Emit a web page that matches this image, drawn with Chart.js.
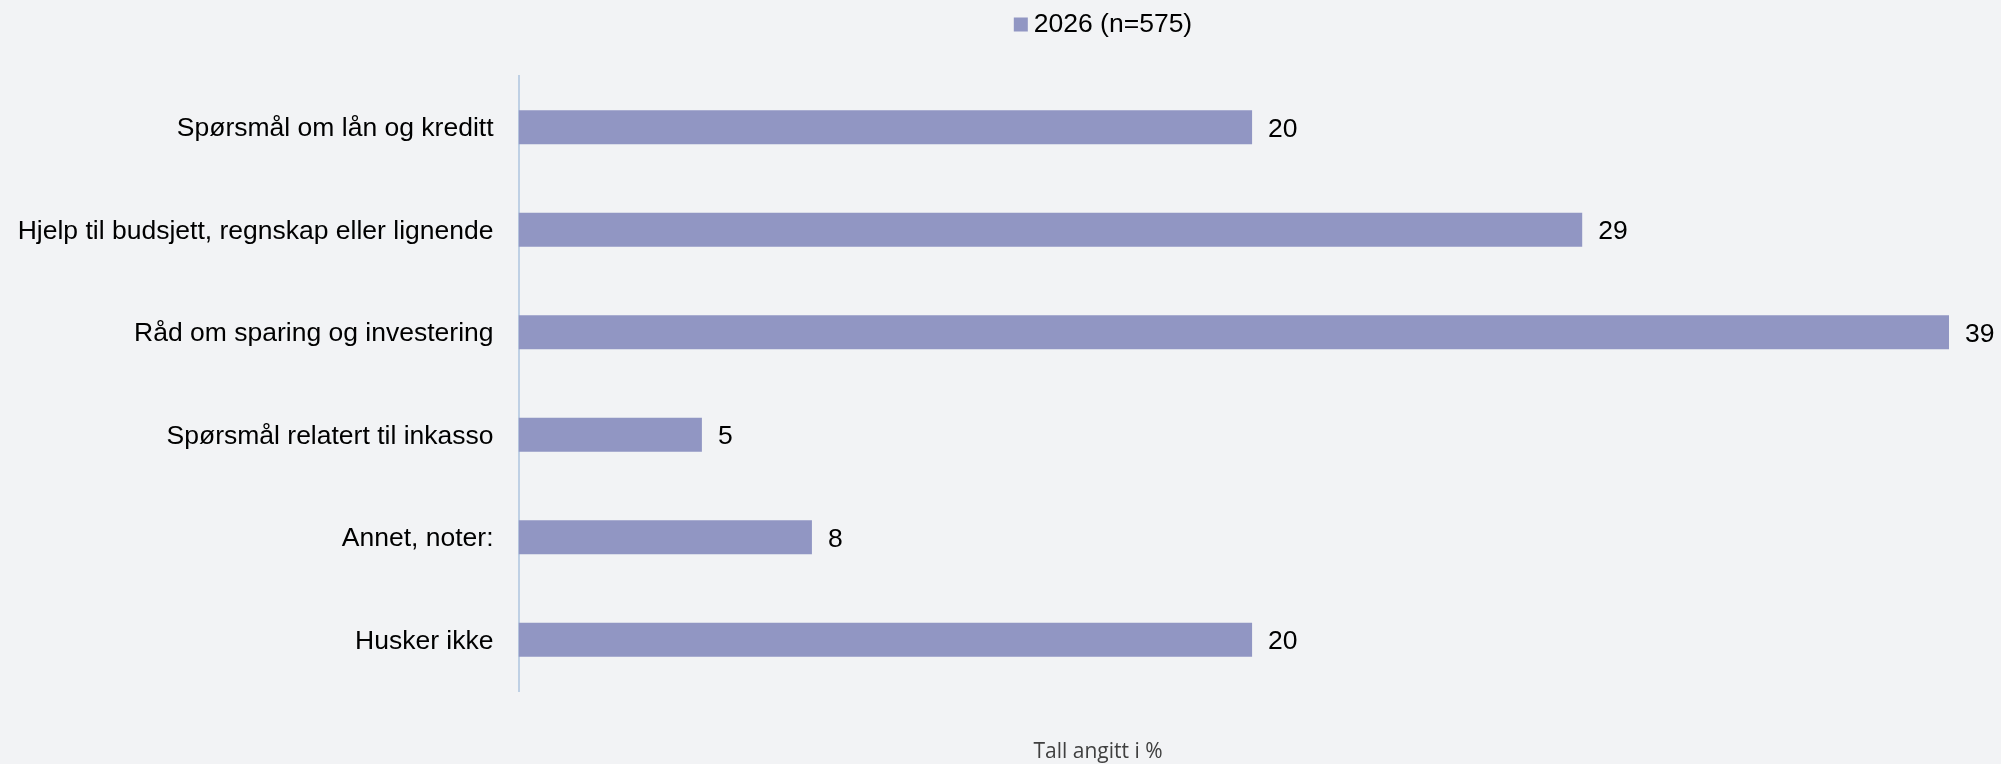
<!DOCTYPE html>
<html>
<head>
<meta charset="utf-8">
<script src="https://cdn.jsdelivr.net/npm/chart.js@4.4.1/dist/chart.umd.min.js"></script>
<style>
  html, body { margin: 0; padding: 0; background: #f2f3f5; }
  #wrap { width: 2001px; height: 764px; }
</style>
</head>
<body>
<div id="wrap"><canvas id="chart" width="2001" height="764"></canvas></div>
<script>
const categories = [
  'Spørsmål om lån og kreditt',
  'Hjelp til budsjett, regnskap eller lignende',
  'Råd om sparing og investering',
  'Spørsmål relatert til inkasso',
  'Annet, noter:',
  'Husker ikke',
]
const values = [20, 29, 39, 5, 8, 20]
const seriesLabel = '2026 (n=575)'
const footnote = 'Tall angitt i %'

const barColor = '#9196c3'
const textFont = '26.5px "Liberation Sans", Arial, sans-serif'

// value labels to the right of each bar
const valueLabels = {
  id: 'valueLabels',
  afterDatasetsDraw(chart) {
    const { ctx } = chart
    const meta = chart.getDatasetMeta(0)
    ctx.save()
    ctx.font = textFont
    ctx.fillStyle = '#000'
    ctx.textAlign = 'left'
    ctx.textBaseline = 'middle'
    meta.data.forEach((bar, i) => {
      ctx.fillText(String(chart.data.datasets[0].data[i]), bar.x + 16, bar.y + 2)
    })
    ctx.restore()
  },
}

// legend swatch at the top and the footnote at the bottom
const captions = {
  id: 'captions',
  afterDraw(chart) {
    const { ctx } = chart
    const ds = chart.data.datasets[0]
    ctx.save()
    ctx.font = textFont
    const tw = ctx.measureText(ds.label).width
    const total = 14 + 6 + tw
    const x0 = 1103 - total / 2
    ctx.fillStyle = ds.backgroundColor
    ctx.fillRect(x0, 17.5, 14, 14)
    ctx.fillStyle = '#000'
    ctx.textBaseline = 'middle'
    ctx.textAlign = 'left'
    ctx.fillText(ds.label, x0 + 20, 25)

    ctx.font = '21px "Open Sans", sans-serif'
    ctx.fillStyle = '#404040'
    ctx.textAlign = 'center'
    ctx.textBaseline = 'alphabetic'
    ctx.fillText(footnote, 1098, 758)
    ctx.restore()
  },
}

new Chart(document.getElementById('chart').getContext('2d'), {
  type: 'bar',
  data: {
    labels: categories,
    datasets: [
      {
        label: seriesLabel,
        data: values,
        backgroundColor: barColor,
        borderWidth: 0,
        barPercentage: 0.332,
        categoryPercentage: 1,
      },
    ],
  },
  options: {
    indexAxis: 'y',
    responsive: false,
    animation: false,
    devicePixelRatio: 1,
    layout: {
      padding: { top: 76, bottom: 73, right: 52, left: 0 },
    },
    scales: {
      x: {
        display: false,
        min: 0,
        max: 39,
      },
      y: {
        afterFit(scale) {
          scale.width = 518.5
        },
        grid: { display: false, drawTicks: false },
        border: { display: true, color: '#bfd0e4', width: 2 },
        ticks: {
          padding: 25,
          labelOffset: 1.5,
          color: '#000',
          font: { family: '"Liberation Sans", Arial, sans-serif', size: 26.5 },
        },
      },
    },
    plugins: {
      legend: { display: false },
      tooltip: { enabled: false },
    },
  },
  plugins: [valueLabels, captions],
})
</script>
</body>
</html>
